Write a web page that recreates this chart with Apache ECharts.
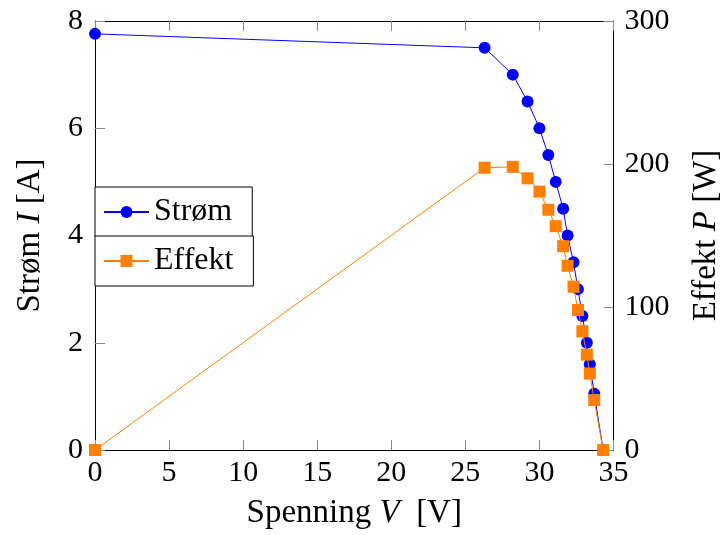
<!DOCTYPE html>
<html><head><meta charset="utf-8">
<script src="https://cdn.jsdelivr.net/npm/echarts@6/dist/echarts.min.js"></script>
<style>html,body{margin:0;padding:0;background:#fff}#c{width:724px;height:535px}</style>
</head><body><div id="c"></div>
<script>
const voltage = [0, 26.3, 28.2, 29.2, 30.0, 30.6, 31.1, 31.6, 31.9, 32.3, 32.6, 32.9, 33.2, 33.4, 33.7, 34.3];
const current = [7.76, 7.5, 7.0, 6.5, 6.0, 5.5, 5.0, 4.5, 4.0, 3.5, 3.0, 2.5, 2.0, 1.6, 1.05, 0];
const power = [0, 197.4, 198, 190, 180.7, 168, 156.5, 142.5, 128.8, 114.2, 97.9, 83, 66.7, 53.5, 34.9, 0];
const xTicks = {min: 0, max: 35, interval: 5};
const iTicks = {min: 0, max: 8, interval: 2};
const pTicks = {min: 0, max: 300, interval: 100};

const FF = "'Liberation Serif', serif";
const tickFont = {fontFamily: FF, fontSize: 30, color: '#000'};
const nameFont = {fontFamily: FF, fontSize: 33, color: '#000',
  rich: {i: {fontFamily: FF, fontSize: 33, color: '#000', fontStyle: 'italic'}}};
const tick = {show: true, inside: true, length: 10, lineStyle: {color: '#888', width: 1}};
const line = {show: true, onZero: false, lineStyle: {color: '#000', width: 1}};

const chart = echarts.init(document.getElementById('c'), null, {renderer: 'canvas'});
const legendBase = {
  orient: 'vertical', left: 95, padding: [9, 20, 9, 8], itemWidth: 45, itemHeight: 15,
  borderColor: '#000', borderWidth: 1, backgroundColor: '#fff', borderRadius: 0,
  textStyle: {fontFamily: FF, fontSize: 32, color: '#000'}
};
chart.setOption({
  animation: false,
  grid: {left: 95, right: 110.5, top: 21, bottom: 85, outerBoundsMode: 'none', containLabel: false},
  legend: [
    Object.assign({}, legendBase, {data: ['Strøm'], top: 187}),
    Object.assign({}, legendBase, {data: ['Effekt'], top: 236})
  ],
  xAxis: [
    {type: 'value', position: 'bottom', min: xTicks.min, max: xTicks.max, interval: xTicks.interval,
     name: 'Spenning {i|V}  [V]', nameLocation: 'middle', nameGap: 47, nameTextStyle: nameFont,
     axisLine: line, axisTick: tick, splitLine: {show: false},
     axisLabel: Object.assign({margin: 8, showMinLabel: true, showMaxLabel: true}, tickFont)},
    {type: 'value', position: 'top', min: xTicks.min, max: xTicks.max, interval: xTicks.interval,
     axisLine: line, axisTick: tick, splitLine: {show: false}, axisLabel: {show: false}}
  ],
  yAxis: [
    {type: 'value', position: 'left', min: iTicks.min, max: iTicks.max, interval: iTicks.interval,
     name: 'Strøm {i|I} [A]', nameLocation: 'middle', nameRotate: 90, nameGap: 48, nameTextStyle: nameFont,
     axisLine: line, axisTick: tick, splitLine: {show: false},
     axisLabel: Object.assign({margin: 12}, tickFont)},
    {type: 'value', position: 'right', min: pTicks.min, max: pTicks.max, interval: pTicks.interval,
     name: 'Effekt {i|P} [W]', nameLocation: 'middle', nameRotate: 90, nameGap: 76, nameTextStyle: nameFont,
     axisLine: line, axisTick: tick, splitLine: {show: false},
     axisLabel: Object.assign({margin: 11}, tickFont)}
  ],
  series: [
    {name: 'Strøm', type: 'line', xAxisIndex: 0, yAxisIndex: 0, clip: false,
     data: voltage.map((v, k) => [v, current[k]]),
     symbol: 'circle', symbolSize: 12, showAllSymbol: true,
     lineStyle: {color: '#0000ff', width: 1}, itemStyle: {color: '#0000ff'}, z: 2},
    {name: 'Effekt', type: 'line', xAxisIndex: 0, yAxisIndex: 1, clip: false,
     data: voltage.map((v, k) => [v, power[k]]),
     symbol: 'rect', symbolSize: 12, showAllSymbol: true,
     lineStyle: {color: '#ff8000', width: 1}, itemStyle: {color: '#ff8000'}, z: 3}
  ]
});
</script></body></html>
